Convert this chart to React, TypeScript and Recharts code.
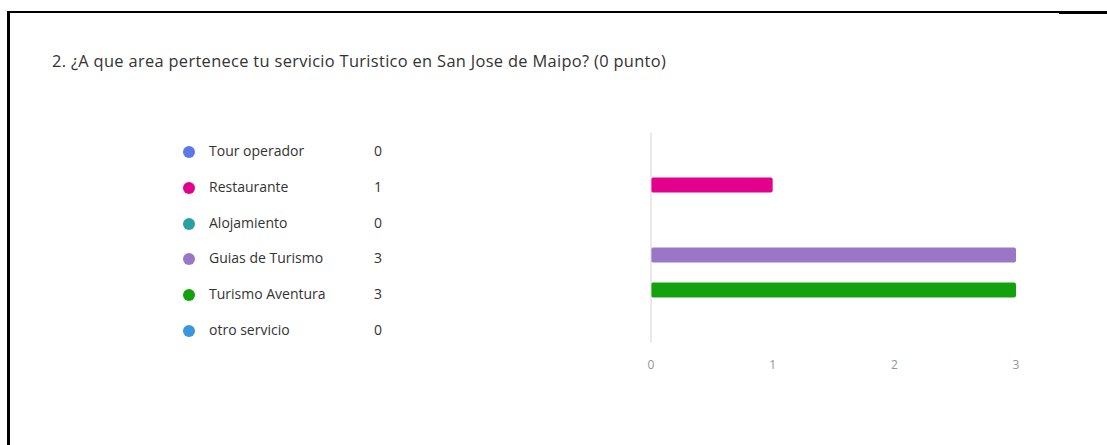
import React from 'react';
import { BarChart, Bar, XAxis, YAxis, Cell, ReferenceLine } from 'recharts';

const categories = ['Tour operador', 'Restaurante', 'Alojamiento', 'Guias de Turismo', 'Turismo Aventura', 'otro servicio'];
const counts = [0, 1, 0, 3, 3, 0];
const colors = ['#5b79e8', '#e3008c', '#2aa0a4', '#9a76c6', '#13a10e', '#3a96dd'];
const xTicks = [0, 1, 2, 3];

const title = '2. ¿A que area pertenece tu servicio Turistico en San Jose de Maipo? (0 punto)';

const data = categories.map((name, i) => ({ name, count: counts[i] }));

const font = '"Open Sans", "Noto Sans", sans-serif';

export default function App() {
	return (
		<div style={{ position: 'absolute', left: 0, top: 0, width: 1107, height: 445, background: '#fff', overflow: 'hidden', fontFamily: font }}>
			{/* frame lines */}
			<div style={{ position: 'absolute', left: 7, top: 11, width: 3, height: 434, background: '#000' }} />
			<div style={{ position: 'absolute', left: 7, top: 11, width: 1052, height: 2, background: '#000' }} />
			<div style={{ position: 'absolute', left: 1059, top: 11, width: 48, height: 3, background: '#000' }} />

			<div style={{ position: 'absolute', left: 52, top: 49, fontSize: 16.4, letterSpacing: 0.33, color: '#333', whiteSpace: 'nowrap' }}>{title}</div>

			<div style={{ position: 'absolute', left: 183, top: 141 }}>
				{data.map((d, i) => (
					<div key={d.name} style={{ position: 'relative', height: 35.8, width: 220, fontSize: 14, color: '#333' }}>
						<span style={{ position: 'absolute', left: 0, top: 5, width: 12, height: 12, borderRadius: 6, background: colors[i] }} />
						<span style={{ position: 'absolute', left: 26, top: 0 }}>{d.name}</span>
						<span style={{ position: 'absolute', left: 191, top: 0 }}>{d.count}</span>
					</div>
				))}
			</div>

			<div style={{ position: 'absolute', left: 600, top: 120 }}>
				<BarChart
					width={460}
					height={270}
					data={data}
					layout="vertical"
					margin={{ top: 12.5, right: 44, left: 51, bottom: 17.5 }}
				>
					<XAxis
						type="number"
						domain={[0, 3]}
						ticks={xTicks}
						axisLine={false}
						tickLine={false}
						tickMargin={12}
						height={30}
						tick={{ fill: '#959595', fontSize: 12, fontFamily: font }}
					/>
					<YAxis type="category" dataKey="name" hide />
					<ReferenceLine x={0} stroke="#d4d4d4" />
					<Bar dataKey="count" barSize={15} radius={2} isAnimationActive={false}>
						{data.map((d, i) => (
							<Cell key={d.name} fill={colors[i]} />
						))}
					</Bar>
				</BarChart>
			</div>
		</div>
	);
}
